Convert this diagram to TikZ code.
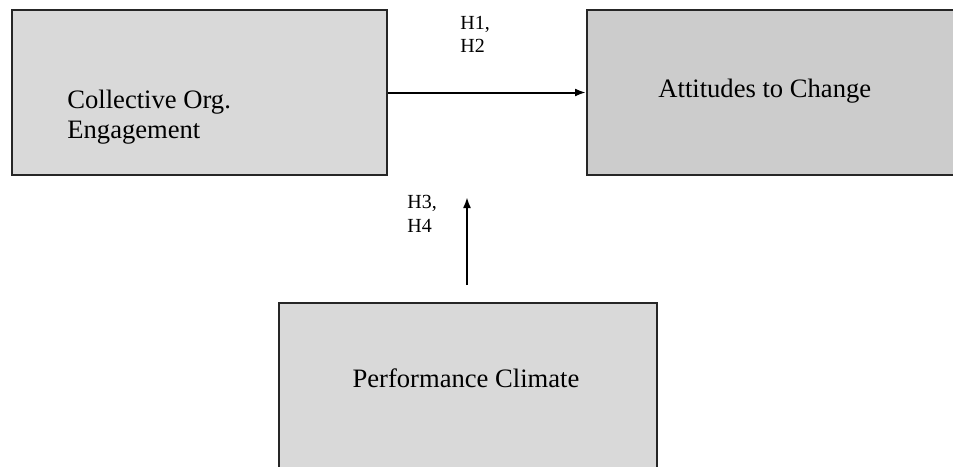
\documentclass[tikz,border=0pt]{standalone}
\usepackage{fontspec}
\setmainfont{Liberation Serif}
\usetikzlibrary{arrows,arrows.meta,positioning}

\tikzset{
    box/.style={draw=black!85,line width=1pt,inner sep=0pt,rectangle},
    boxtext/.style={inner sep=0pt,align=left,font=\fontsize{13.3}{15}\selectfont},
    hyp/.style={inner sep=0pt,align=left,font=\fontsize{10}{12}\selectfont},
    link/.style={-{Latex[length=5.5pt,width=4pt]},line width=1pt}
}

\begin{document}
\begin{tikzpicture}[x=0.5pt,y=-0.5pt]
        \useasboundingbox (0,0) rectangle (953,466);
        \clip (0,0) rectangle (953,466);

        % Boxes
        \node[box,fill=black!15,minimum width=187.5pt,minimum height=82.5pt] (orgEng) at (199.5,92.5) {};
        \node[box,fill=black!20,minimum width=190pt,minimum height=82.5pt] (attChange) at (777,92.5) {};
        \node[box,fill=black!15,minimum width=189pt,minimum height=85pt] (perfClimate) at (468,388) {};

        % Box texts
        \node[boxtext,anchor=base west] (orgEngTxt) at (67,138) {Collective Org.\\Engagement};
        \node[boxtext,anchor=base west] (attChangeTxt) at (658,97) {Attitudes to Change};
        \node[boxtext,anchor=base] (perfClimateTxt) at (466,387) {Performance Climate};

        % Free ends of the moderating arrow
        \coordinate (modFrom) at (467,285);
        \coordinate (modTo) at (467,197);

        % Arrows
        \draw[link] (orgEng) -- (attChange);
        \draw[link] (modFrom) -- (modTo);

        % Hypotheses
        \node[hyp,anchor=base west] (hypA) at (460,53) {H1,\\H2};
        \node[hyp,anchor=base west] (hypB) at (407,232) {H3,\\H4};

    \end{tikzpicture}
\end{document}
